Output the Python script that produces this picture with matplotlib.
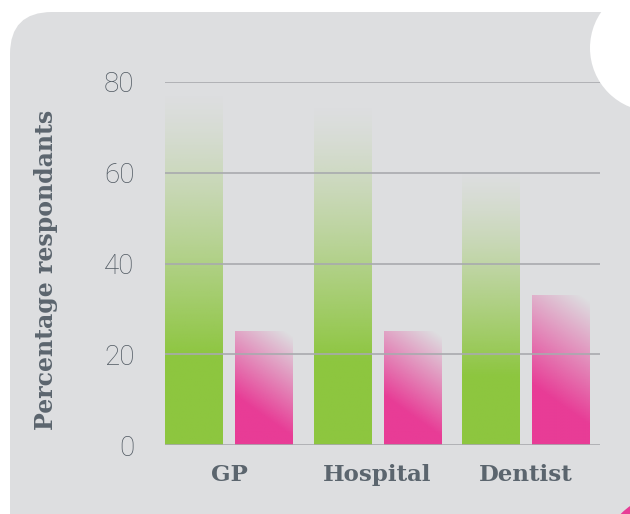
import numpy as np
import matplotlib
matplotlib.use("Agg")
import matplotlib.pyplot as plt
from matplotlib.patches import FancyBboxPatch, Circle

# survey results, % of respondents
categories = ["GP", "Hospital", "Dentist"]
green_vals = [78, 75, 61]
pink_vals = [25, 25, 33]
yticks = [0, 20, 40, 60, 80]

GREEN = np.array([141, 198, 63]) / 255
PINK = np.array([232, 60, 150]) / 255
BG = "#dddee0"
TXT = "#5b656e"

W, H = 630, 514
fig = plt.figure(figsize=(W / 100, H / 100), dpi=100, facecolor="white")

# panel background drawn in pixel coords
bg = fig.add_axes([0, 0, 1, 1])
bg.set_xlim(0, W)
bg.set_ylim(H, 0)
bg.axis("off")
bg.add_patch(FancyBboxPatch((10, 12), 700, 560, boxstyle="round,pad=0,rounding_size=42",
                            fc=BG, ec="none"))
bg.add_patch(Circle((653.5, 48), 63.5, fc="white", ec="none"))
bg.add_patch(Circle((668, 560), 66, fc="#e83c96", ec="none"))

ax = fig.add_axes([165 / W, 69 / H, 435 / W, 363 / H])
ax.set_facecolor("none")
ax.set_xlim(-0.431, 2.498)
ax.set_ylim(0, 80)
for sp in ax.spines.values():
    sp.set_visible(False)

bw = 0.39
off = 0.236


def green_img(n=200):
    t = np.linspace(0, 1, n)[:, None]  # 0 bottom, 1 top
    a = np.clip((1.0 - t) / 0.75, 0, 1) ** 1.3
    img = np.zeros((n, 2, 4))
    img[..., :3] = GREEN
    img[..., 3] = a
    return img


def pink_img(h_px, w_px=58, n=200):
    ys = np.linspace(0, h_px, n)[:, None]
    xs = np.linspace(0, w_px, 60)[None, :]
    th = np.deg2rad(55)
    s = (xs * np.cos(th) + ys * np.sin(th)) / (w_px * np.cos(th) + h_px * np.sin(th))
    a = np.clip((0.97 - s) / 0.65, 0, 1)
    img = np.zeros((n, 60, 4))
    img[..., :3] = PINK
    img[..., 3] = a
    return img


px_per_unit = 363 / 80
for i in range(len(categories)):
    g = green_vals[i]
    ax.imshow(green_img(), extent=[i - off - bw / 2, i - off + bw / 2, 0, g],
              origin="lower", aspect="auto", zorder=2, interpolation="bilinear")
    p = pink_vals[i]
    ax.imshow(pink_img(p * px_per_unit), extent=[i + off - bw / 2, i + off + bw / 2, 0, p],
              origin="lower", aspect="auto", zorder=2, interpolation="bilinear")

for y in yticks:
    ax.axhline(y, color="#a8aaae", lw=1.4, alpha=0.85, zorder=3)

ax.set_xlim(-0.431, 2.498)
ax.set_ylim(0, 80)
ax.set_yticks(yticks)
ax.set_yticklabels([str(v) for v in yticks], fontfamily="Roboto", fontweight="light",
                   fontsize=20, color="#4f5861")
ax.set_xticks(range(len(categories)))
ax.set_xticklabels(categories, fontfamily="DejaVu Serif", fontweight="bold",
                   fontsize=16.5, color=TXT)
ax.tick_params(axis="y", length=0, pad=22)
ax.tick_params(axis="x", length=0, pad=14)

fig.text(46 / W, 1 - 270 / H, "Percentage respondants", rotation=90, ha="center",
         va="center", fontfamily="DejaVu Serif", fontweight="bold", fontsize=17, color=TXT)

fig.savefig("out.png", dpi=100, facecolor="white")
